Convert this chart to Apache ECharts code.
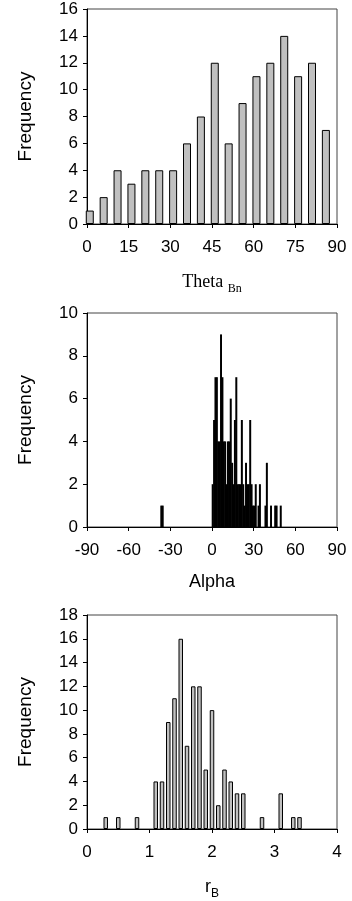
<!DOCTYPE html>
<html><head><meta charset="utf-8">
<script src="https://cdn.jsdelivr.net/npm/echarts@6/dist/echarts.min.js"></script>
<style>html,body{margin:0;padding:0;background:#fff}#c{width:352px;height:901px}</style>
</head><body><div id="c"></div>
<script>
// Panel 1: Theta_Bn histogram (bar centres in degrees, counts)
const thetaCenters = [1,6,11,16,21,26,31,36,41,46,51,56,61,66,71,76,81,86];
const thetaFreq    = [1,2,4,3,4,4,4,6,8,12,6,9,11,12,14,11,12,7];
// Panel 2: Alpha histogram (1-degree bins, lower edge, counts)
const alphaBins = [-37,-36,0,1,2,3,4,5,6,7,8,9,10,11,12,13,14,15,16,17,18,19,20,21,22,23,24,25,26,27,28,29,30,31,33,34,38,39,42,45,46,49];
const alphaFreq = [1,1,2,5,7,7,4,4,9,7,4,4,2,4,4,6,3,2,5,7,2,2,2,5,2,1,3,2,2,5,2,1,1,2,1,2,1,3,1,1,1,1];
// Panel 3: r_B histogram (bar centres, counts)
const rBCenters = [0.3,0.5,0.8,1.1,1.2,1.3,1.4,1.5,1.6,1.7,1.8,1.9,2.0,2.1,2.2,2.3,2.4,2.5,2.8,3.1,3.3,3.4];
const rBFreq    = [1,1,1,4,4,9,11,16,7,12,12,5,10,2,5,4,3,3,1,3,1,1];
// Axis ranges / tick steps
const thetaAxis = {min:0, max:90, step:15};
const alphaAxis = {min:-90, max:90, step:30};
const rBAxis    = {min:0, max:4, step:1};
const freqAxes  = [{max:16, step:2},{max:10, step:2},{max:18, step:2}];

const SANS = 'Liberation Sans, Arial, sans-serif';
const SERIF = 'Liberation Serif, Times New Roman, serif';

const grids = [
  {left:87, top:9, width:250, height:215},
  {left:87, top:313, width:250, height:214},
  {left:87, top:615, width:250, height:215}
].map(g => Object.assign(g, {show:true, borderColor:'#444', borderWidth:1, backgroundColor:'transparent'}));

function xAx(i, ax, name, nameGap, rich){
  return {
    type:'value', gridIndex:i, min:ax.min, max:ax.max, interval:ax.step,
    axisLine:{show:true, onZero:false, lineStyle:{color:'#000', width:1}},
    axisTick:{show:true, length:4, lineStyle:{color:'#000'}},
    splitLine:{show:false},
    axisLabel:{color:'#000', fontSize:17, fontFamily:SANS, margin:15},
    name:name, nameLocation:'middle', nameGap:nameGap,
    nameTextStyle: rich ? {rich:rich} : {color:'#000', fontSize:18, fontFamily:SANS}
  };
}
function yAx(i, f){
  return {
    type:'value', gridIndex:i, min:0, max:f.max, interval:f.step,
    axisLine:{show:true, onZero:false, lineStyle:{color:'#000', width:1}},
    axisTick:{show:true, length:4, lineStyle:{color:'#000'}},
    splitLine:{show:false},
    axisLabel:{color:'#000', fontSize:17, fontFamily:SANS, margin:9},
    name:'Frequency', nameLocation:'middle', nameGap:52, nameRotate:90,
    nameTextStyle:{color:'#000', fontSize:19, fontFamily:SANS}
  };
}

const option = {
  animation:false,
  backgroundColor:'#fff',
  grid: grids,
  xAxis: [
    xAx(0, thetaAxis, '{t|Theta }{s|Bn}', 45, {
      t:{fontFamily:SERIF, fontSize:18, color:'#000', lineHeight:26, verticalAlign:'middle'},
      s:{fontFamily:SERIF, fontSize:12, color:'#000', lineHeight:8, verticalAlign:'bottom'}
    }),
    xAx(1, alphaAxis, 'Alpha', 46),
    xAx(2, rBAxis, '{t|r}{s|B}', 45, {
      t:{fontFamily:SANS, fontSize:18, color:'#000', lineHeight:26, verticalAlign:'middle'},
      s:{fontFamily:SANS, fontSize:12, color:'#000', lineHeight:8, verticalAlign:'bottom'}
    })
  ],
  yAxis: [yAx(0, freqAxes[0]), yAx(1, freqAxes[1]), yAx(2, freqAxes[2])],
  series: [
    {type:'bar', xAxisIndex:0, yAxisIndex:0, barWidth:8, clip:true,
     itemStyle:{color:'#c0c0c0', borderColor:'#000', borderWidth:1},
     data: thetaCenters.map((x,i)=>[x, thetaFreq[i]])},
    {type:'bar', xAxisIndex:1, yAxisIndex:1, barWidth:2, clip:true,
     itemStyle:{color:'#000'},
     data: alphaBins.map((b,i)=>[b+0.5, alphaFreq[i]])},
    {type:'bar', xAxisIndex:2, yAxisIndex:2, barWidth:4.5, clip:true,
     itemStyle:{color:'#c0c0c0', borderColor:'#000', borderWidth:1},
     data: rBCenters.map((x,i)=>[x, rBFreq[i]])}
  ]
};
const chart = echarts.init(document.getElementById('c'), null, {renderer:'canvas'});
chart.setOption(option);
</script></body></html>
